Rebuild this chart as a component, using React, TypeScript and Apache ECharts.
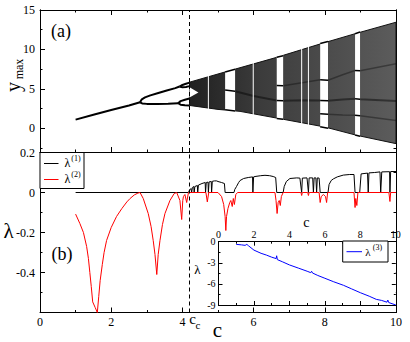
import React, { useEffect, useRef } from "react";
import * as echarts from "echarts";

const FONT = "Liberation Serif, DejaVu Serif, serif";

// ---------- data ----------
const C_CRIT = 4.19;

// top panel: periodic branches of y_max
const period1 = [[1.0, 1.1], [1.5, 1.72], [2.0, 2.33], [2.5, 2.9], [2.81, 3.3]];
const period2Upper = [[2.81, 3.3], [2.86, 3.68], [2.95, 3.92], [3.1, 4.18], [3.3, 4.45], [3.56, 4.8], [3.8, 5.1], [3.92, 5.3]];
const period2Lower = [[2.81, 3.3], [2.87, 3.15], [3.0, 3.1], [3.3, 3.1], [3.6, 3.12], [3.88, 3.18]];
const period4UU = [[3.92, 5.3], [4.0, 5.5], [4.1, 5.65], [4.2, 5.8]];
const period4UL = [[3.92, 5.3], [4.0, 5.22], [4.1, 5.25], [4.2, 5.35]];
const period4LU = [[3.88, 3.18], [3.95, 3.45], [4.07, 3.62], [4.2, 3.78]];
const period4LL = [[3.88, 3.18], [3.95, 3.0], [4.07, 2.93], [4.2, 2.9]];

// chaotic band envelope
const chaosUpper = [[4.2, 5.85], [5.24, 7.2], [6.65, 9.0], [7.91, 10.75], [8.9, 12.06], [10, 13.45]];
const chaosLower = [[4.2, 2.9], [5.0, 2.4], [5.62, 2.15], [6.83, 1.15], [8.0, 0.17], [8.9, -0.89], [10, -1.94]];
const bandGap = [[4.2, 5.2], [4.45, 4.55], [4.2, 3.9]];
// denser rails inside the chaos
const railMid = [[5.48, 4.7], [6.0, 4.1], [6.65, 3.54], [6.83, 3.5], [7.4, 3.55], [7.87, 3.54], [8.09, 3.5], [8.5, 3.65], [8.85, 3.76], [8.99, 3.7], [10, 3.45]];
const railUpper = [[6.83, 5.4], [7.4, 5.8], [7.87, 6.16], [8.09, 6.1], [8.5, 6.8], [8.85, 7.34], [8.99, 7.3], [10, 8.2]];
const railLower = [[8.09, 1.8], [8.5, 1.7], [8.85, 1.65], [8.99, 1.6], [10, 1.0]];

// periodic windows inside the chaos
const windowStart = [5.2, 6.65, 7.87, 8.85];
const windowEnd = [5.48, 6.83, 8.09, 8.99];
const gapLines = [4.73, 5.99, 7.35, 7.54];
const windowOrbits = [
  [5.2, 7.15, 5.48, 7.5], [5.2, 4.85, 5.48, 4.7], [5.2, 2.35, 5.48, 2.2],
  [6.65, 9.0, 6.83, 9.2], [6.65, 5.44, 6.83, 5.4], [6.65, 3.54, 6.83, 3.5], [6.65, 1.25, 6.83, 1.15],
  [7.87, 10.75, 8.09, 11.0], [7.87, 6.16, 8.09, 6.1], [7.87, 3.54, 8.09, 3.5], [7.87, 1.86, 8.09, 1.8], [7.87, 0.2, 8.09, 0.0],
  [8.85, 12.0, 8.99, 12.2], [8.85, 7.34, 8.99, 7.3], [8.85, 3.76, 8.99, 3.7], [8.85, 1.65, 8.99, 1.6], [8.85, -0.85, 8.99, -1.0],
];

// bottom panel: Lyapunov exponents
const lambda1 = [
  [1, 0], [4.17, 0], [4.2, 0.012], [4.24, 0.02], [4.26, 0], [4.28, 0.025], [4.32, 0.03], [4.33, 0], [4.35, 0.03],
  [4.42, 0.035], [4.43, 0], [4.45, 0.037], [4.55, 0.045], [4.64, 0.05], [4.65, 0], [4.67, 0.05], [4.72, 0.052],
  [4.73, 0], [4.75, 0.053], [4.81, 0.055], [4.82, 0], [4.84, 0.056], [4.9, 0.058], [4.96, 0.058], [5.0, 0.055],
  [5.1, 0.05], [5.18, 0.045], [5.2, 0], [5.45, 0], [5.47, 0.015], [5.52, 0.03], [5.58, 0.05], [5.62, 0.06],
  [5.72, 0.07], [5.85, 0.075], [5.97, 0.078], [5.98, 0], [6.0, 0.078], [6.04, 0.08], [6.2, 0.084], [6.32, 0.086],
  [6.45, 0.084], [6.55, 0.08], [6.62, 0.075], [6.65, 0], [6.83, 0], [6.86, 0.03], [6.92, 0.055], [7.02, 0.07],
  [7.21, 0.073], [7.3, 0.072], [7.35, 0], [7.37, 0.072], [7.5, 0.073], [7.54, 0], [7.56, 0.073], [7.66, 0.073],
  [7.68, 0], [7.7, 0.073], [7.75, 0.073], [7.77, 0], [7.79, 0.073], [7.84, 0.072], [7.87, 0], [8.09, 0],
  [8.12, 0.04], [8.18, 0.06], [8.24, 0.068], [8.35, 0.078], [8.52, 0.087], [8.7, 0.09], [8.82, 0.09], [8.85, 0],
  [8.98, 0], [9.02, 0.093], [9.2, 0.097], [9.22, 0], [9.24, 0.098], [9.4, 0.1], [9.55, 0.103], [9.57, 0],
  [9.6, 0.103], [9.82, 0.104], [9.83, 0], [9.85, 0.105], [10, 0.105],
];
const lambda2 = [
  [1, -0.108], [1.12, -0.155], [1.22, -0.2], [1.31, -0.27], [1.36, -0.33], [1.4, -0.4], [1.44, -0.47],
  [1.48, -0.547], [1.55, -0.575], [1.61, -0.6], [1.65, -0.52], [1.69, -0.44], [1.75, -0.36], [1.8, -0.3],
  [1.87, -0.24], [2.0, -0.175], [2.15, -0.12], [2.3, -0.08], [2.44, -0.047], [2.53, -0.03], [2.65, -0.012],
  [2.75, -0.003], [2.81, 0], [2.9, -0.03], [3.04, -0.105], [3.12, -0.17], [3.18, -0.24], [3.23, -0.31],
  [3.28, -0.41], [3.32, -0.31], [3.37, -0.24], [3.44, -0.16], [3.51, -0.105], [3.65, -0.04], [3.77, -0.005],
  [3.84, 0], [3.93, -0.04], [3.98, -0.135], [4.01, -0.04], [4.03, -0.02], [4.07, -0.01], [4.12, -0.05],
  [4.17, 0], [4.66, 0], [4.7, -0.047], [4.74, 0], [5.0, 0], [5.1, -0.02], [5.16, -0.06], [5.2, -0.12],
  [5.22, -0.19], [5.24, -0.12], [5.28, -0.08], [5.33, -0.05], [5.36, -0.04], [5.4, -0.07], [5.43, -0.03],
  [5.46, -0.06], [5.5, -0.01], [5.55, 0], [6.6, 0], [6.63, -0.04], [6.66, -0.105], [6.69, -0.05],
  [6.72, -0.04], [6.75, -0.065], [6.78, -0.02], [6.83, 0], [7.33, 0], [7.35, -0.015], [7.37, 0], [7.52, 0],
  [7.54, -0.015], [7.56, 0], [7.84, 0], [7.87, -0.05], [7.9, -0.02], [7.96, -0.01], [8.02, -0.02],
  [8.05, -0.05], [8.08, 0], [8.82, 0], [8.85, -0.075], [8.87, -0.03], [8.9, -0.065], [8.93, 0], [9.8, 0],
  [9.83, -0.045], [9.85, 0], [10, 0],
];
// inset
const lambda3 = [
  [1, -0.38], [1.3, -0.45], [1.5, -0.52], [1.6, -0.38], [1.7, -0.6], [2.0, -1.2], [2.4, -1.65], [2.7, -1.9],
  [3.0, -2.2], [3.25, -2.4], [3.28, -2.0], [3.32, -2.55], [3.6, -2.85], [4.0, -3.3], [4.5, -3.75], [5.0, -4.2],
  [5.2, -4.4], [5.25, -4.2], [5.3, -4.45], [5.6, -4.8], [6.0, -5.2], [6.5, -5.7], [7.05, -6.2], [7.5, -6.7],
  [8.0, -7.25], [8.5, -7.75], [8.9, -8.2], [9.2, -8.35], [9.5, -8.6], [9.55, -8.3], [9.6, -8.65], [10, -9.0],
];

// tick values
const topMajor = [0, 5, 10, 15];
const topMinor = [-2.5, 2.5, 7.5, 12.5];
const botMajor = [-0.4, -0.2, 0, 0.2];
const botMinor = [-0.5, -0.3, -0.1, 0.1];
const insMajor = [-9, -6, -3, 0];
const insMinor = [-7.5, -4.5, -1.5];

// ---------- helpers ----------
const lineBlack = { color: "#000", width: 1 };

function xAx(gridIndex: number, position: string, showLabels: boolean, fontSize: number, margin: number, ticks = true) {
  return {
    gridIndex, type: "value", position, min: 0, max: 10, interval: 2,
    axisLine: { show: true, onZero: false, lineStyle: lineBlack },
    axisTick: { show: ticks, inside: true, length: fontSize > 11 ? 5 : 4, lineStyle: lineBlack },
    minorTick: { show: ticks, splitNumber: 2, length: fontSize > 11 ? 2.5 : 2, lineStyle: lineBlack },
    axisLabel: { show: showLabels, fontFamily: FONT, fontSize, color: "#000", margin },
    splitLine: { show: false }, minorSplitLine: { show: false },
  };
}

function yAx(gridIndex: number, position: string, min: number, max: number, ticks: number[], len: number,
  labels: number[] | null, fontSize: number, margin: number) {
  const label: any = { show: !!labels, fontFamily: FONT, fontSize, color: "#000", margin };
  if (labels) label.customValues = labels;
  return {
    gridIndex, type: "value", position, min, max,
    axisLine: { show: true, onZero: false, lineStyle: lineBlack },
    axisTick: { show: true, inside: true, length: len, customValues: ticks, lineStyle: lineBlack },
    axisLabel: label,
    splitLine: { show: false },
  };
}

function branch(data: number[][]) {
  return {
    type: "line", xAxisIndex: 0, yAxisIndex: 0, data, showSymbol: false, silent: true,
    lineStyle: { color: "#000", width: 2 }, z: 6,
  };
}

function rail(data: number[][], width: number, alpha: number) {
  return {
    type: "line", xAxisIndex: 0, yAxisIndex: 0, data, showSymbol: false, silent: true,
    lineStyle: { color: `rgba(0,0,0,${alpha})`, width }, z: 2.5,
  };
}

function txt(x: number, y: number, text: string, size: number, extra: any = {}) {
  return {
    type: "text", x, y, z: 20, silent: true, ...extra,
    style: { text, fill: "#000", font: `${size}px ${FONT}`, align: "center", verticalAlign: "middle", ...(extra.style || {}) },
  };
}

export default function App() {
  const ref = useRef<HTMLDivElement>(null);
  useEffect(() => {
    if (!ref.current) return;
    const chart = echarts.init(ref.current, null, { renderer: "svg" });
    const grad = new echarts.graphic.LinearGradient(0, 0, 1, 0, [
      { offset: 0, color: "#202020" },
      { offset: 0.35, color: "#3c3c3c" },
      { offset: 1, color: "#5c5c5c" },
    ]);
    const dashed = {
      silent: true, symbol: ["none", "none"], label: { show: false },
      lineStyle: { type: [4, 3], color: "#000", width: 1 },
      data: [{ xAxis: C_CRIT }], z: 10,
    };
    const option: any = {
      animation: false,
      backgroundColor: "#fff",
      grid: [
        { left: 40, top: 10, width: 356, height: 142 },
        { left: 40, top: 152.5, width: 356, height: 160 },
        { left: 218.5, top: 241.7, width: 177.3, height: 63.3, show: true, backgroundColor: "#fff", borderWidth: 0, z: 5 },
      ],
      xAxis: [
        xAx(0, "bottom", false, 12, 4),
        xAx(0, "top", false, 12, 4),
        xAx(1, "bottom", true, 12, 3),
        xAx(1, "top", false, 12, 4, false),
        { ...xAx(2, "top", true, 10, 2), z: 7 },
        { ...xAx(2, "bottom", false, 10, 2), z: 7 },
      ],
      yAxis: [
        yAx(0, "left", -3, 15, topMajor, 5, topMajor, 12, 5),
        yAx(0, "left", -3, 15, topMinor, 2.5, null, 12, 5),
        yAx(0, "right", -3, 15, topMajor, 5, null, 12, 5),
        yAx(0, "right", -3, 15, topMinor, 2.5, null, 12, 5),
        yAx(1, "left", -0.6, 0.2, botMajor, 5, botMajor, 12, 5),
        yAx(1, "left", -0.6, 0.2, botMinor, 2.5, null, 12, 5),
        yAx(1, "right", -0.6, 0.2, botMajor, 5, null, 12, 5),
        yAx(1, "right", -0.6, 0.2, botMinor, 2.5, null, 12, 5),
        { ...yAx(2, "left", -9, 0, insMajor, 4, insMajor, 10, 3), z: 7 },
        { ...yAx(2, "left", -9, 0, insMinor, 2, null, 10, 3), z: 7 },
        { ...yAx(2, "right", -9, 0, insMajor, 4, null, 10, 3), z: 7 },
        { ...yAx(2, "right", -9, 0, insMinor, 2, null, 10, 3), z: 7 },
      ],
      series: [
        // chaotic band
        {
          type: "custom", xAxisIndex: 0, yAxisIndex: 0, data: [[0, 0]], silent: true, z: 2,
          renderItem: (_p: any, api: any) => {
            const top = chaosUpper.map((p) => api.coord(p));
            const bot = chaosLower.map((p) => api.coord(p)).reverse();
            return {
              type: "group",
              children: [
                { type: "polygon", shape: { points: top.concat(bot) }, style: { fill: grad, stroke: "#111", lineWidth: 1 } },
                { type: "polygon", shape: { points: bandGap.map((p) => api.coord(p)) }, style: { fill: "#fff" } },
              ],
            };
          },
        },
        rail(railMid, 2, 0.45),
        rail(railUpper, 1.5, 0.35),
        rail(railLower, 1.5, 0.35),
        // periodic windows (white)
        {
          type: "custom", xAxisIndex: 0, yAxisIndex: 0, silent: true, z: 3,
          data: windowStart.map((s, i) => [s, windowEnd[i]]),
          renderItem: (_p: any, api: any) => {
            const a = api.coord([api.value(0), 14.2]);
            const b = api.coord([api.value(1), -2.2]);
            return { type: "rect", shape: { x: a[0], y: a[1], width: b[0] - a[0], height: b[1] - a[1] }, style: { fill: "#fff" } };
          },
        },
        // thin gaps
        {
          type: "custom", xAxisIndex: 0, yAxisIndex: 0, silent: true, z: 3,
          data: gapLines.map((c) => [c, 0]),
          renderItem: (_p: any, api: any) => {
            const a = api.coord([api.value(0), 14.2]);
            const b = api.coord([api.value(0), -2.2]);
            return { type: "line", shape: { x1: a[0], y1: a[1], x2: b[0], y2: b[1] }, style: { stroke: "#fff", lineWidth: 1 } };
          },
        },
        // orbit segments in windows
        {
          type: "custom", xAxisIndex: 0, yAxisIndex: 0, silent: true, z: 4,
          data: windowOrbits,
          renderItem: (_p: any, api: any) => {
            const a = api.coord([api.value(0), api.value(1)]);
            const b = api.coord([api.value(2), api.value(3)]);
            return { type: "line", shape: { x1: a[0], y1: a[1], x2: b[0], y2: b[1] }, style: { stroke: "#000", lineWidth: 1.5 } };
          },
        },
        { ...branch(period1), markLine: dashed },
        branch(period2Upper),
        branch(period2Lower),
        branch(period4UU),
        branch(period4UL),
        branch(period4LU),
        branch(period4LL),
        // bottom panel
        {
          type: "line", xAxisIndex: 2, yAxisIndex: 4, data: lambda1, showSymbol: false, silent: true,
          lineStyle: { color: "#000", width: 1 }, z: 3, markLine: dashed,
        },
        {
          type: "line", xAxisIndex: 2, yAxisIndex: 4, data: lambda2, showSymbol: false, silent: true,
          lineStyle: { color: "#ff0000", width: 1 }, z: 4,
        },
        // inset
        {
          type: "line", xAxisIndex: 4, yAxisIndex: 8, data: lambda3, showSymbol: false, silent: true,
          lineStyle: { color: "#0000ff", width: 1 }, z: 8,
        },
      ],
      graphic: [
        txt(61, 31, "(a)", 18),
        txt(62, 254, "(b)", 18),
        txt(13, 87, "y", 20, { rotation: Math.PI / 2 }),
        txt(18.5, 69, "max", 12, { rotation: Math.PI / 2 }),
        txt(8.5, 231, "λ", 21),
        txt(217.5, 330, "c", 21),
        txt(192.5, 319, "c", 15),
        txt(198, 325, "c", 11),
        txt(306.3, 222, "c", 14),
        txt(197.5, 269, "λ", 13),
        // main legend
        {
          type: "rect", z: 19, silent: true, shape: { x: 40, y: 152.5, width: 44, height: 36 },
          style: { fill: "#fff", stroke: "#000", lineWidth: 1 },
        },
        { type: "line", z: 20, silent: true, shape: { x1: 44, y1: 163.5, x2: 58.5, y2: 163.5 }, style: { stroke: "#000", lineWidth: 1 } },
        { type: "line", z: 20, silent: true, shape: { x1: 44, y1: 179.5, x2: 58.5, y2: 179.5 }, style: { stroke: "#ff0000", lineWidth: 1 } },
        txt(67.5, 163, "λ", 12),
        txt(76, 158.5, "(1)", 8),
        txt(67.5, 179, "λ", 12),
        txt(76, 174.5, "(2)", 8),
        // inset legend
        {
          type: "rect", z: 19, silent: true, shape: { x: 342.7, y: 241, width: 45.3, height: 21 },
          style: { fill: "#fff", stroke: "#000", lineWidth: 1 },
        },
        { type: "line", z: 20, silent: true, shape: { x1: 346.5, y1: 251.7, x2: 362, y2: 251.7 }, style: { stroke: "#0000ff", lineWidth: 1 } },
        txt(368, 251.5, "λ", 11),
        txt(377.5, 247, "(3)", 8),
      ],
    };
    chart.setOption(option);
    return () => chart.dispose();
  }, []);
  return <div ref={ref} style={{ position: "fixed", left: 0, top: 0, width: 410, height: 342 }} />;
}
